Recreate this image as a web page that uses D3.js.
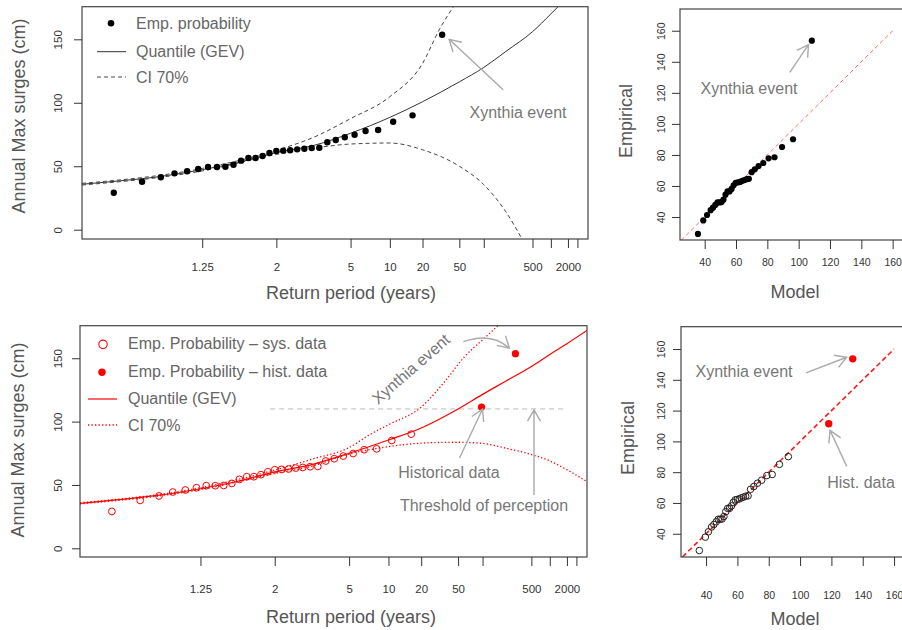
<!DOCTYPE html>
<html lang="en">
<head>
<meta charset="UTF-8">
<title>Annual max surges - return level and QQ plots</title>
<style>
  body { margin: 0; background: #fff; }
  svg { font-family: "Liberation Sans", Arial, sans-serif; }
</style>
</head>
<body>
<svg id="chart" width="902" height="630"></svg>
<script src="https://d3js.org/d3.v7.min.js"></script>
<script>
// ---------- data ----------
// return periods (years) of the ranked systematic annual maxima
var empReturnPeriod = [1.037, 1.071, 1.107, 1.143, 1.185, 1.231, 1.280, 1.333, 1.391, 1.455,
                       1.524, 1.600, 1.684, 1.778, 1.882, 2.000, 2.133, 2.286, 2.462, 2.667,
                       2.909, 3.200, 3.556, 4.000, 4.571, 5.333, 6.400, 8.000, 10.67, 16.00];
var sysSurges = [29.1, 37.8, 41.3, 44.4, 46.0, 47.8, 49.4, 49.4, 49.6, 51.2,
                 54.4, 56.5, 56.5, 58.1, 60.4, 62.0, 62.3, 62.6, 63.3, 63.8,
                 64.4, 64.6, 68.9, 70.7, 72.8, 74.8, 77.8, 78.5, 85.1, 90.1];
var xynthiaSurge = 153.6;
var xynthiaReturnPeriod = 32;          // top: Xynthia as part of the systematic sample
var histReturnPeriod = [97, 285];      // bottom: historical data
var histSurges = [111.5, 153.6];
var perceptionThreshold = 110;
var thresholdSpan = [1.92, 2000];

// GEV fit, systematic data only (top)
var gevT     = [1.017, 1.05, 1.1, 1.25, 1.5, 2, 3, 5, 10, 20, 50, 100, 200, 500, 1000, 1500];
var gevLevel = [35.8, 39.0, 41.6, 47.3, 53.0, 60.8, 66.5, 76.0, 88.5, 100.8, 116.5, 127.8, 140.5, 156.0, 170.0, 178.0];
var ciUpT     = [1.017, 1.25, 2, 3, 5, 10, 20, 30, 45];
var ciUpLevel = [36.5, 48.3, 62.5, 73.0, 87.5, 104.8, 131.0, 158.0, 178.0];
var ciLoT     = [1.017, 1.25, 2, 3, 5, 10, 20, 50, 100, 200, 350];
var ciLoLevel = [35.2, 46.3, 59.3, 64.3, 67.5, 68.3, 63.0, 50.0, 35.5, 14.0, -8.0];

// GEV fit with historical data (bottom)
var gevHT     = [1.017, 1.05, 1.1, 1.25, 1.5, 2, 3, 5, 10, 20, 50, 100, 200, 500, 1000, 2000, 4800];
var gevHLevel = [35.5, 38.8, 41.5, 47.0, 52.7, 60.3, 66.3, 75.0, 85.5, 95.0, 110.0, 121.5, 131.5, 143.5, 153.0, 161.5, 172.0];
var ciHUpT     = [1.017, 1.25, 2, 3, 5, 7, 10, 20, 35, 60, 100, 170];
var ciHUpLevel = [36.0, 47.8, 61.8, 70.5, 79.5, 89.5, 97.5, 111.5, 131.3, 151.5, 164.5, 177.0];
var ciHLoT     = [1.017, 1.25, 2, 3, 5, 10, 20, 50, 100, 200, 500, 1000, 2000, 4800];
var ciHLoLevel = [35.0, 46.3, 59.0, 65.0, 74.4, 80.2, 83.0, 83.7, 82.8, 79.2, 74.0, 69.0, 62.0, 52.6];

// QQ plots: model quantiles matching the sorted empirical values
var qqModelSys = [35.7, 39.1, 41.5, 43.8, 45.3, 46.8, 48.2, 49.5, 50.8, 52.0,
                  53.3, 54.6, 55.9, 57.2, 58.5, 59.8, 61.2, 62.6, 64.0, 65.4,
                  66.8, 68.2, 70.0, 72.0, 74.4, 77.4, 80.8, 84.6, 89.4, 96.4];
var qqModelXynthia = 108.4;
var qqModelSysH = [35.7, 39.5, 41.5, 43.5, 45.0, 46.5, 47.8, 49.0, 50.2, 51.4,
                   52.6, 53.8, 55.0, 56.2, 57.4, 58.6, 59.9, 61.2, 62.5, 63.9,
                   65.3, 66.8, 68.4, 70.5, 72.8, 75.5, 78.8, 82.2, 86.8, 92.5];
var qqModelHist = [118.3, 133.6];
var qqLineEnds = [25, 160];

// axis ticks
var rpTicks = [1.25, 2, 5, 10, 20, 50, 100, 500, 1000, 2000, 3000];
var rpTickLabels = ["1.25", "2", "5", "10", "20", "50", "", "500", "", "2000", ""];
var levelTicks = [0, 50, 100, 150];
var qqTicks = [40, 60, 80, 100, 120, 140, 160];

// ---------- helpers ----------
var svg = d3.select("#chart");
var axisColor = "#333", titleColor = "#555", legendColor = "#666", noteColor = "#777", arrowColor = "#aaa";
var gumbelShift = 2.927;

// position on the return period axis
function rpT(T) { return Math.log(-Math.log(-Math.log(1 - 1 / T)) + gumbelShift); }

function zip(a, b) { return a.map(function (d, i) { return [d, b[i]]; }); }

function drawBox(x, y) {
    svg.append("rect")
        .attr("x", x.range()[0]).attr("y", y.range()[1])
        .attr("width", x.range()[1] - x.range()[0]).attr("height", y.range()[0] - y.range()[1])
        .attr("fill", "none").attr("stroke", "#444").attr("stroke-width", 1.2);
}

function clip(id, x, y) {
    svg.append("clipPath").attr("id", id).append("rect")
        .attr("x", x.range()[0]).attr("y", y.range()[1])
        .attr("width", x.range()[1] - x.range()[0]).attr("height", y.range()[0] - y.range()[1]);
    return "url(#" + id + ")";
}

function bottomAxis(x, y, ax, labelY, size) {
    var g = svg.append("g").attr("transform", "translate(0," + y.range()[0] + ")").call(ax.tickSize(9));
    g.select(".domain").remove();
    g.attr("color", axisColor).attr("font-family", null).attr("font-size", size);
    g.selectAll(".tick text").attr("y", labelY).attr("dy", "0.35em");
}

function leftAxis(x, y, ticks, labelX, size) {
    var g = svg.append("g").attr("transform", "translate(" + x.range()[0] + ",0)")
        .call(d3.axisLeft(y).tickValues(ticks).tickSize(8));
    g.select(".domain").remove();
    g.attr("color", axisColor).attr("font-family", null).attr("font-size", size);
    g.selectAll(".tick text").attr("transform", "rotate(-90)")
        .attr("x", 0).attr("y", -labelX).attr("dy", "0.35em").attr("text-anchor", "middle");
}

function label(txt, x, y, size, color, rotate) {
    var t = svg.append("text").attr("x", x).attr("y", y).attr("text-anchor", "middle")
        .attr("dominant-baseline", "central").attr("font-size", size).attr("fill", color).text(txt);
    if (rotate) t.attr("transform", "rotate(" + rotate + "," + x + "," + y + ")");
    return t;
}

function legendText(txt, x, y) {
    svg.append("text").attr("x", x).attr("y", y).attr("dominant-baseline", "central")
        .attr("font-size", 16).attr("fill", legendColor).text(txt);
}

function head(p, x2, y2, ang) {
    var len = 13, spread = Math.PI / 6;
    p.moveTo(x2 + len * Math.cos(ang + spread), y2 + len * Math.sin(ang + spread));
    p.lineTo(x2, y2);
    p.lineTo(x2 + len * Math.cos(ang - spread), y2 + len * Math.sin(ang - spread));
}

function arrow(x1, y1, x2, y2) {
    var p = d3.path();
    p.moveTo(x1, y1); p.lineTo(x2, y2);
    head(p, x2, y2, Math.atan2(y1 - y2, x1 - x2));
    svg.append("path").attr("d", p.toString()).attr("fill", "none")
        .attr("stroke", arrowColor).attr("stroke-width", 1.4);
}

function curvedArrow(x1, y1, cx, cy, x2, y2) {
    var p = d3.path();
    p.moveTo(x1, y1); p.quadraticCurveTo(cx, cy, x2, y2);
    head(p, x2, y2, Math.atan2(cy - y2, cx - x2));
    svg.append("path").attr("d", p.toString()).attr("fill", "none")
        .attr("stroke", arrowColor).attr("stroke-width", 1.4);
}

function rlLine(x, y) {
    return d3.line().x(function (d) { return x(rpT(d[0])); })
        .y(function (d) { return y(d[1]); }).curve(d3.curveMonotoneX);
}

// ---------- top left: return levels, systematic data ----------
var rpDomain = [rpT(1.017), rpT(4800)];
var x1 = d3.scaleLinear().domain(rpDomain).range([82, 588]);
var y1 = d3.scaleLinear().domain([-7.33, 175.7]).range([239, 6.7]);
var clip1 = clip("clip1", x1, y1);
var line1 = rlLine(x1, y1);

svg.append("path").datum(zip(gevT, gevLevel)).attr("d", line1).attr("clip-path", clip1)
    .attr("fill", "none").attr("stroke", "#333").attr("stroke-width", 1);
[zip(ciUpT, ciUpLevel), zip(ciLoT, ciLoLevel)].forEach(function (ci) {
    svg.append("path").datum(ci).attr("d", line1).attr("clip-path", clip1)
        .attr("fill", "none").attr("stroke", "#444").attr("stroke-width", 1)
        .attr("stroke-dasharray", "4,3");
});

svg.append("g").selectAll("circle")
    .data(zip(empReturnPeriod.concat([xynthiaReturnPeriod]), sysSurges.concat([xynthiaSurge])))
    .enter().append("circle")
    .attr("cx", function (d) { return x1(rpT(d[0])); })
    .attr("cy", function (d) { return y1(d[1]); })
    .attr("r", 3.2).attr("fill", "#000");

drawBox(x1, y1);
bottomAxis(x1, y1, d3.axisBottom(x1).tickValues(rpTicks.map(rpT))
    .tickFormat(function (d, i) { return rpTickLabels[i]; }), 28, 11.5);
leftAxis(x1, y1, levelTicks, 24, 11.5);
label("Annual Max surges (cm)", 19, 116, 18, titleColor, -90);
label("Return period (years)", 351, 293, 18, titleColor);

svg.append("circle").attr("cx", 111).attr("cy", 23.3).attr("r", 3.3).attr("fill", "#000");
legendText("Emp. probability", 136, 23.3);
svg.append("line").attr("x1", 97).attr("x2", 126).attr("y1", 51.7).attr("y2", 51.7)
    .attr("stroke", "#333").attr("stroke-width", 1);
legendText("Quantile (GEV)", 136, 51.7);
svg.append("line").attr("x1", 97).attr("x2", 126).attr("y1", 77).attr("y2", 77)
    .attr("stroke", "#444").attr("stroke-width", 1).attr("stroke-dasharray", "4,3");
legendText("CI 70%", 136, 77);

var xyX = x1(rpT(xynthiaReturnPeriod)), xyY = y1(xynthiaSurge);
arrow(xyX + 61, xyY + 55, xyX + 7, xyY + 4.6);
label("Xynthia event", 518, 112, 16, noteColor);

// ---------- bottom left: return levels with historical data ----------
var x2 = d3.scaleLinear().domain(rpDomain).range([80, 587]);
var y2 = d3.scaleLinear().domain([-6.87, 175.7]).range([557, 325.7]);
var clip2 = clip("clip2", x2, y2);
var line2 = rlLine(x2, y2);

svg.append("line")
    .attr("x1", x2(rpT(thresholdSpan[0]))).attr("x2", x2(rpT(thresholdSpan[1])))
    .attr("y1", y2(perceptionThreshold)).attr("y2", y2(perceptionThreshold))
    .attr("stroke", "#bbb").attr("stroke-width", 1).attr("stroke-dasharray", "5,4");

svg.append("path").datum(zip(gevHT, gevHLevel)).attr("d", line2).attr("clip-path", clip2)
    .attr("fill", "none").attr("stroke", "#f00").attr("stroke-width", 1.2);
[zip(ciHUpT, ciHUpLevel), zip(ciHLoT, ciHLoLevel)].forEach(function (ci) {
    svg.append("path").datum(ci).attr("d", line2).attr("clip-path", clip2)
        .attr("fill", "none").attr("stroke", "#f00").attr("stroke-width", 1.3)
        .attr("stroke-dasharray", "1.3,2.2");
});

svg.append("g").selectAll("circle")
    .data(zip(empReturnPeriod, sysSurges)).enter().append("circle")
    .attr("cx", function (d) { return x2(rpT(d[0])); })
    .attr("cy", function (d) { return y2(d[1]); })
    .attr("r", 3.4).attr("fill", "none").attr("stroke", "#f00").attr("stroke-width", 1);
svg.append("g").selectAll("circle")
    .data(zip(histReturnPeriod, histSurges)).enter().append("circle")
    .attr("cx", function (d) { return x2(rpT(d[0])); })
    .attr("cy", function (d) { return y2(d[1]); })
    .attr("r", 3.6).attr("fill", "#f00");

drawBox(x2, y2);
bottomAxis(x2, y2, d3.axisBottom(x2).tickValues(rpTicks.map(rpT))
    .tickFormat(function (d, i) { return rpTickLabels[i]; }), 32, 11.5);
leftAxis(x2, y2, levelTicks, 22, 11.5);
label("Annual Max surges (cm)", 17.5, 440, 18, titleColor, -90);
label("Return period (years)", 351, 617, 18, titleColor);

svg.append("circle").attr("cx", 103).attr("cy", 344.3).attr("r", 4.2)
    .attr("fill", "none").attr("stroke", "#f00").attr("stroke-width", 1.1);
legendText("Emp. Probability \u2013 sys. data", 128, 343.5);
svg.append("circle").attr("cx", 102).attr("cy", 372.3).attr("r", 3.7).attr("fill", "#f00");
legendText("Emp. Probability \u2013 hist. data", 128, 371.5);
svg.append("line").attr("x1", 88).attr("x2", 117).attr("y1", 399).attr("y2", 399)
    .attr("stroke", "#f00").attr("stroke-width", 1.2);
legendText("Quantile (GEV)", 128, 398.5);
svg.append("line").attr("x1", 88).attr("x2", 117).attr("y1", 425).attr("y2", 425)
    .attr("stroke", "#f00").attr("stroke-width", 1.3).attr("stroke-dasharray", "1.3,2.2");
legendText("CI 70%", 128, 425);

var hxX = x2(rpT(histReturnPeriod[1])), hxY = y2(histSurges[1]);
curvedArrow(hxX - 52, hxY - 12, hxX - 24, hxY - 22, hxX - 6, hxY - 5.5);
label("Xynthia event", 411, 369, 16, noteColor, -41);
var hdX = x2(rpT(histReturnPeriod[0])), hdY = y2(histSurges[0]);
arrow(hdX - 22, hdY + 51, hdX + 1, hdY + 2);
label("Historical data", 449, 472, 16, noteColor);
var thX = x2(rpT(550)), thY = y2(perceptionThreshold);
arrow(thX, thY + 86, thX, thY + 1);
label("Threshold of perception", 484, 505, 16, noteColor);

// ---------- top right: QQ plot, systematic data ----------
var xq1 = d3.scaleLinear().domain([24.25, 166.6]).range([680, 903]);
var yq1 = d3.scaleLinear().domain([25.2, 174]).range([240, 9]);
var clipq1 = clip("clipq1", xq1, yq1);

svg.append("line").attr("clip-path", clipq1)
    .attr("x1", xq1(qqLineEnds[0])).attr("y1", yq1(qqLineEnds[0]))
    .attr("x2", xq1(qqLineEnds[1])).attr("y2", yq1(qqLineEnds[1]))
    .attr("stroke", "#ff4d4d").attr("stroke-opacity", 0.85).attr("stroke-width", 1)
    .attr("stroke-dasharray", "4,3");
svg.append("g").selectAll("circle")
    .data(zip(qqModelSys.concat([qqModelXynthia]), sysSurges.concat([xynthiaSurge])))
    .enter().append("circle")
    .attr("cx", function (d) { return xq1(d[0]); })
    .attr("cy", function (d) { return yq1(d[1]); })
    .attr("r", 3.1).attr("fill", "#000");

drawBox(xq1, yq1);
bottomAxis(xq1, yq1, d3.axisBottom(xq1).tickValues(qqTicks), 22, 10.5);
leftAxis(xq1, yq1, qqTicks, 18.5, 10.5);
label("Model", 795, 292, 18, titleColor);
label("Empirical", 626, 121, 18, titleColor, -90);

var qxX = xq1(qqModelXynthia), qxY = yq1(xynthiaSurge);
arrow(qxX - 22, qxY + 31.7, qxX - 3.3, qxY + 4);
label("Xynthia event", 749, 88.5, 16, noteColor);

// ---------- bottom right: QQ plot with historical data ----------
var xq2 = d3.scaleLinear().domain([24.0, 165.7]).range([681, 903]);
var yq2 = d3.scaleLinear().domain([24.9, 174.5]).range([557, 326.7]);
var clipq2 = clip("clipq2", xq2, yq2);

svg.append("line").attr("clip-path", clipq2)
    .attr("x1", xq2(qqLineEnds[0])).attr("y1", yq2(qqLineEnds[0]))
    .attr("x2", xq2(qqLineEnds[1])).attr("y2", yq2(qqLineEnds[1]))
    .attr("stroke", "#ff1a1a").attr("stroke-width", 1.6).attr("stroke-dasharray", "5,3");
svg.append("g").selectAll("circle")
    .data(zip(qqModelSysH, sysSurges)).enter().append("circle")
    .attr("cx", function (d) { return xq2(d[0]); })
    .attr("cy", function (d) { return yq2(d[1]); })
    .attr("r", 3.3).attr("fill", "none").attr("stroke", "#222").attr("stroke-width", 1);
svg.append("g").selectAll("circle")
    .data(zip(qqModelHist, histSurges)).enter().append("circle")
    .attr("cx", function (d) { return xq2(d[0]); })
    .attr("cy", function (d) { return yq2(d[1]); })
    .attr("r", 3.7).attr("fill", "#f00");

drawBox(xq2, yq2);
bottomAxis(xq2, yq2, d3.axisBottom(xq2).tickValues(qqTicks), 38, 10.5);
leftAxis(xq2, yq2, qqTicks, 19.5, 10.5);
label("Model", 795, 619, 18, titleColor);
label("Empirical", 627.5, 438, 18, titleColor, -90);

var qhX = xq2(qqModelHist[1]), qhY = yq2(histSurges[1]);
arrow(qhX - 46.7, qhY + 14, qhX - 6, qhY - 1.6);
label("Xynthia event", 744, 371, 16, noteColor);
var qdX = xq2(qqModelHist[0]), qdY = yq2(histSurges[0]);
arrow(qdX + 18, qdY + 42.7, qdX + 1.3, qdY + 6.7);
label("Hist. data", 861, 482, 16, noteColor);
</script>
</body>
</html>
